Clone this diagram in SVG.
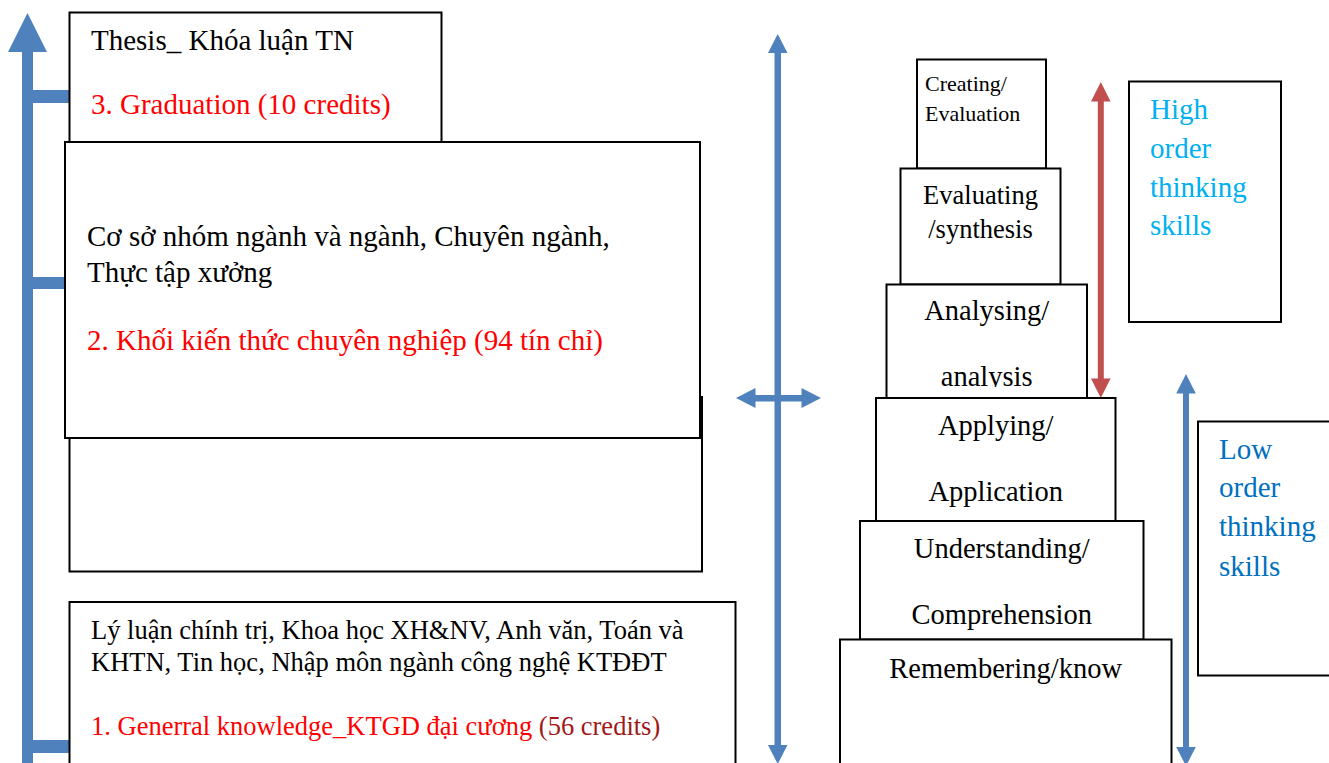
<svg xmlns="http://www.w3.org/2000/svg" width="1329" height="763" viewBox="0 0 1329 763">
<style>
.box{fill:#fff;stroke:#000;stroke-width:2}
.t{font-family:"Liberation Serif","Times New Roman",serif;fill:#000}
.red{fill:#ff0000}
.blue{fill:#4f81bd}
.redarrow{fill:#c0504d}
.hi{fill:#00b0f0}
.lo{fill:#0070c0}
.c{text-anchor:middle}
</style>
<defs>
<clipPath id="clipAna"><rect x="886" y="284" width="201" height="103"/></clipPath>
</defs>
<rect width="1329" height="763" fill="#fff"/>
<g id="connectors">
  <!-- left main arrow -->
  <rect class="blue" x="22" y="50" width="11" height="720"/>
  <polygon class="blue" points="27.5,13 47,52 8,52"/>
  <rect class="blue" x="22" y="90" width="50" height="13"/>
  <rect class="blue" x="22" y="277" width="46" height="12"/>
  <rect class="blue" x="22" y="740" width="50" height="13"/>
  <!-- middle vertical double arrow -->
  <rect class="blue" x="774.5" y="50" width="6.5" height="705"/>
  <polygon class="blue" points="777.7,34 787.5,53 768,53"/>
  <polygon class="blue" points="777.7,764 787.5,745 768,745"/>
  <!-- middle horizontal double arrow -->
  <rect class="blue" x="752" y="395" width="52" height="6.5"/>
  <polygon class="blue" points="736,398 755.5,388 755.5,408"/>
  <polygon class="blue" points="821,398 801.5,388 801.5,408"/>
  <!-- red double arrow (high order) -->
  <rect class="redarrow" x="1097.8" y="99" width="6" height="282"/>
  <polygon class="redarrow" points="1100.8,82 1110.6,101.5 1091,101.5"/>
  <polygon class="redarrow" points="1100.8,398 1110.6,378.5 1091,378.5"/>
  <!-- blue double arrow (low order) -->
  <rect class="blue" x="1183" y="390" width="6" height="362"/>
  <polygon class="blue" points="1186,374 1195.8,393.5 1176.2,393.5"/>
  <polygon class="blue" points="1186,766 1195.8,747 1176.2,747"/>
</g>
<g id="node-professional-lower">
  <rect class="box" x="69.5" y="397" width="632.5" height="174.5"/>
</g>
<g id="node-thesis">
  <rect class="box" x="69.5" y="12.5" width="372" height="140"/>
  <text class="t" x="91" y="50" font-size="29">Thesis_ Khóa luận TN</text>
  <text class="t red" x="91" y="114" font-size="29">3. Graduation (10 credits)</text>
</g>
<g id="node-professional">
  <rect class="box" x="65" y="142" width="635" height="296"/>
  <text class="t" x="87" y="246" font-size="29">Cơ sở nhóm ngành và ngành, Chuyên ngành,</text>
  <text class="t" x="87" y="282" font-size="29">Thực tập xưởng</text>
  <text class="t red" x="87" y="350" font-size="29">2. Khối kiến thức chuyên nghiệp (94 tín chỉ)</text>
</g>
<g id="node-general">
  <rect class="box" x="69.5" y="602" width="666" height="180"/>
  <text class="t" x="91" y="639" font-size="26.5">Lý luận chính trị, Khoa học XH&amp;NV, Anh văn, Toán và</text>
  <text class="t" x="91" y="671" font-size="26.5">KHTN, Tin học, Nhập môn ngành công nghệ KTĐĐT</text>
  <text class="t" x="91" y="735" font-size="26.5"><tspan class="red">1. Generral knowledge_KTGD đại cương</tspan> <tspan fill="#a01818">(56 credits)</tspan></text>
</g>
<g id="node-creating">
  <rect class="box" x="917" y="59.5" width="129" height="109"/>
  <text class="t" x="925" y="91" font-size="22">Creating/</text>
  <text class="t" x="925" y="121" font-size="22">Evaluation</text>
</g>
<g id="node-evaluating">
  <rect class="box" x="900.5" y="168.5" width="160" height="116"/>
  <text class="t c" x="980.5" y="204" font-size="26.5">Evaluating</text>
  <text class="t c" x="980.5" y="238" font-size="26.5">/synthesis</text>
</g>
<g id="node-analysing">
  <rect class="box" x="886.5" y="284.5" width="200.5" height="113.5"/>
  <text class="t c" x="986.7" y="320" font-size="28.5">Analysing/</text>
  <text class="t c" x="986.7" y="386" font-size="28.5" clip-path="url(#clipAna)">analysis</text>
</g>
<g id="node-applying">
  <rect class="box" x="876" y="398" width="239.5" height="123"/>
  <text class="t c" x="995.7" y="435" font-size="28.5">Applying/</text>
  <text class="t c" x="995.7" y="501" font-size="28.5">Application</text>
</g>
<g id="node-understanding">
  <rect class="box" x="860" y="521" width="283.5" height="118.5"/>
  <text class="t c" x="1001.7" y="558" font-size="28.5">Understanding/</text>
  <text class="t c" x="1001.7" y="624" font-size="28.5">Comprehension</text>
</g>
<g id="node-remembering">
  <rect class="box" x="840" y="639.5" width="331.5" height="140"/>
  <text class="t c" x="1005.7" y="678" font-size="28.5">Remembering/know</text>
</g>
<g id="node-high-order">
  <rect class="box" x="1129" y="81.5" width="152" height="240.5"/>
  <text class="t hi" x="1150" y="119" font-size="29">High</text>
  <text class="t hi" x="1150" y="158" font-size="29">order</text>
  <text class="t hi" x="1150" y="197" font-size="29">thinking</text>
  <text class="t hi" x="1150" y="235" font-size="29">skills</text>
</g>
<g id="node-low-order">
  <rect class="box" x="1198" y="421.5" width="140" height="254"/>
  <text class="t lo" x="1219" y="459" font-size="29">Low</text>
  <text class="t lo" x="1219" y="497" font-size="29">order</text>
  <text class="t lo" x="1219" y="536" font-size="29">thinking</text>
  <text class="t lo" x="1219" y="576" font-size="29">skills</text>
</g>
</svg>
